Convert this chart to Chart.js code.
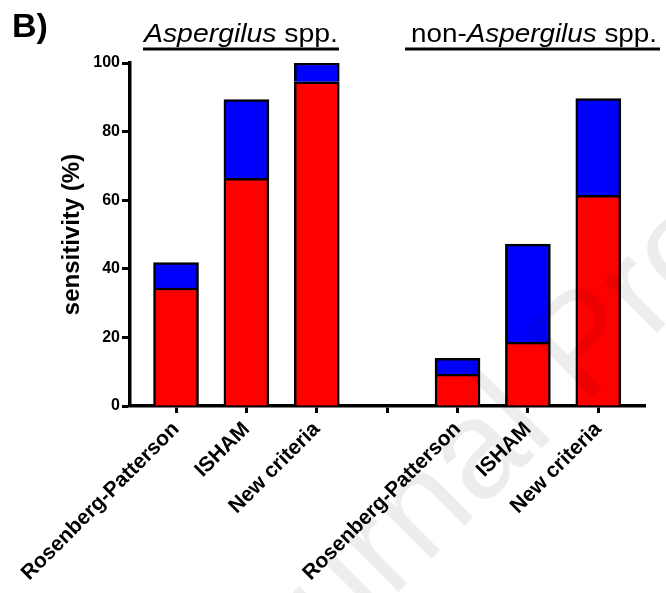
<!DOCTYPE html>
<html>
<head>
<meta charset="utf-8">
<script src="https://cdn.jsdelivr.net/npm/chart.js@4.4.0/dist/chart.umd.min.js"></script>
<style>
  html, body { margin: 0; padding: 0; background: #fff; }
</style>
</head>
<body>
<canvas id="chart" width="666" height="593"></canvas>
<script>
// categories (index 3 is the empty gap between the two groups)
const labels = ["Rosenberg-Patterson", "ISHAM", "New criteria", "", "Rosenberg-Patterson", "ISHAM", "New criteria"];
// red (bottom) and blue (top) parts of each stacked bar, sensitivity in %
const redValues = [34.4, 66.4, 94.5, null, 9.3, 18.6, 61.4];
const blueValues = [7.4, 22.9, 5.5, null, 4.6, 28.6, 28.2];
const yTicks = [0, 20, 40, 60, 80, 100];
const panelLabel = "B)";
const groupTitles = [
  [{ text: "Aspergilus", italic: true }, { text: " spp.", italic: false }],
  [{ text: "non-", italic: false }, { text: "Aspergilus", italic: true }, { text: " spp.", italic: false }],
];

const FONT = '"Liberation Sans", Arial, Helvetica, sans-serif';

function toPoints(values) {
  return values
    .map((v, i) => ({ x: i, y: v }))
    .filter((p) => p.y !== null);
}

// where the group titles sit: text left, text width, underline span
const titleBoxes = [
  { x: 144, w: 194, y: 42, lineX1: 143, lineX2: 339, lineY: 49 },
  { x: 411, w: 246, y: 42, lineX1: 405, lineX2: 660, lineY: 49 },
];

function drawGroupTitle(ctx, parts, box) {
  ctx.save();
  let natural = 0;
  for (const p of parts) {
    ctx.font = (p.italic ? "italic " : "") + "26px " + FONT;
    natural += ctx.measureText(p.text).width;
  }
  const sx = box.w / natural;
  ctx.translate(box.x, box.y);
  ctx.scale(sx, 1);
  let x = 0;
  for (const p of parts) {
    ctx.font = (p.italic ? "italic " : "") + "26px " + FONT;
    ctx.fillText(p.text, x, 0);
    x += ctx.measureText(p.text).width;
  }
  ctx.restore();
  ctx.beginPath();
  ctx.lineWidth = 3;
  ctx.strokeStyle = "#000";
  ctx.moveTo(box.lineX1, box.lineY);
  ctx.lineTo(box.lineX2, box.lineY);
  ctx.stroke();
}

const headerPlugin = {
  id: "header",
  afterDraw(chart) {
    const ctx = chart.ctx;
    ctx.save();
    ctx.fillStyle = "#000";
    ctx.textBaseline = "alphabetic";
    ctx.font = "bold 34px " + FONT;
    ctx.fillText(panelLabel, 12, 37);
    groupTitles.forEach((parts, i) => drawGroupTitle(ctx, parts, titleBoxes[i]));

    // faint watermark over everything
    ctx.translate(232, 758);
    ctx.rotate(-Math.PI / 4);
    ctx.font = "140px " + FONT;
    ctx.fillStyle = "rgba(0,0,0,0.07)";
    ctx.fillText("Journal Pre-proof", 0, 0);
    ctx.restore();
  },
};

const ctx = document.querySelector("#chart");
new Chart(ctx, {
  type: "bar",
  data: {
    datasets: [
      {
        label: "red",
        data: toPoints(redValues),
        backgroundColor: "#ff0000",
        borderColor: "#000000",
        borderWidth: 2.5,
        barThickness: 45,
      },
      {
        label: "blue",
        data: toPoints(blueValues),
        backgroundColor: "#0000ff",
        borderColor: "#000000",
        borderWidth: 2.5,
        barThickness: 45,
      },
    ],
  },
  plugins: [headerPlugin],
  options: {
    responsive: false,
    animation: false,
    layout: {
      padding: { top: 63, left: 58, right: 21, bottom: 0 },
    },
    plugins: {
      legend: { display: false },
      tooltip: { enabled: false },
    },
    scales: {
      x: {
        type: "linear",
        min: -0.654,
        max: 6.664,
        stacked: true,
        offset: false,
        grid: {
          offset: false,
          drawOnChartArea: false,
          drawTicks: true,
          tickLength: 7,
          tickWidth: 3,
          tickColor: "#000",
        },
        border: { display: true, color: "#000", width: 3.5 },
        ticks: {
          stepSize: 1,
          includeBounds: false,
          autoSkip: false,
          minRotation: 45,
          maxRotation: 45,
          padding: 4,
          color: "#000",
          font: { family: FONT, size: 21, weight: "bold" },
          callback: (v) => labels[v] ?? "",
        },
        afterFit: (scale) => {
          scale.height = 187;
        },
      },
      y: {
        min: yTicks[0],
        max: yTicks[yTicks.length - 1],
        stacked: true,
        grid: {
          drawOnChartArea: false,
          drawTicks: true,
          tickLength: 8,
          tickWidth: 3,
          tickColor: "#000",
        },
        border: { display: true, color: "#000", width: 3.5 },
        afterBuildTicks: (scale) => {
          scale.ticks = yTicks.map((v) => ({ value: v }));
        },
        ticks: {
          padding: 2,
          color: "#000",
          font: { family: FONT, size: 16, weight: "bold" },
        },
        title: {
          display: true,
          text: "sensitivity (%)",
          color: "#000",
          padding: 0,
          font: { family: FONT, size: 24, weight: "bold" },
        },
        afterFit: (scale) => {
          scale.width = 72;
        },
      },
    },
  },
});
</script>
</body>
</html>
